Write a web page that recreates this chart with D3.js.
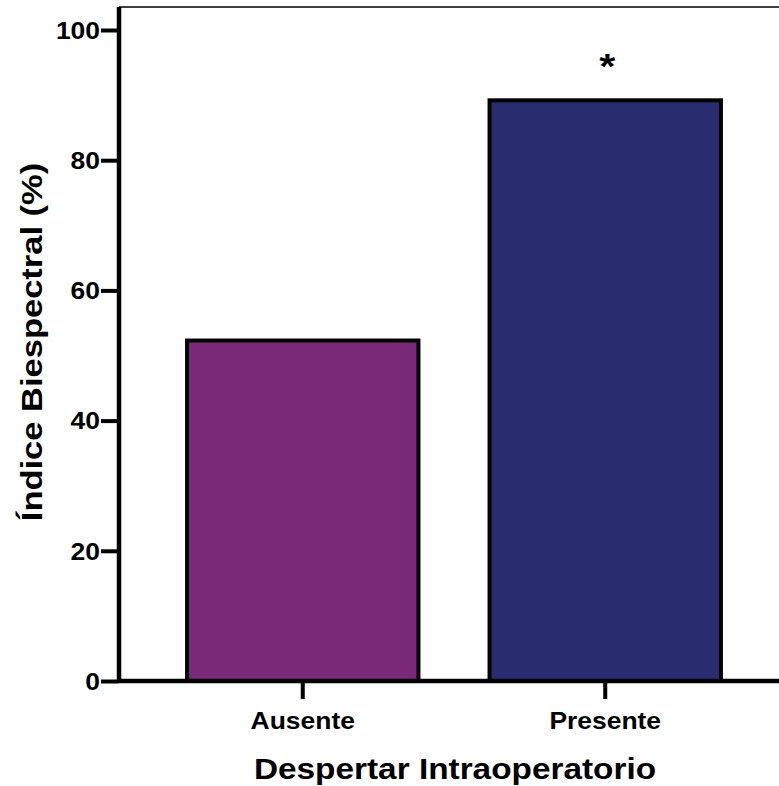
<!DOCTYPE html>
<html>
<head>
<meta charset="utf-8">
<script src="https://cdn.jsdelivr.net/npm/d3@7"></script>
<style>
	body { margin: 0; background: #fff; }
	text { font-family: "Liberation Sans", Arial, sans-serif; font-weight: bold; fill: #000; }
</style>
</head>
<body>
<div id="chart"></div>
<script>
// values
var categories = ["Ausente", "Presente"];
var values = [52.3, 89.2];
var colors = ["#7b2979", "#2a2c71"];
var marks = ["", "*"];
var yTicks = [0, 20, 40, 60, 80, 100];

var W = 779, H = 786;
var margin = {top: 8, right: 0, bottom: 105, left: 119};
// the original lettering is a bit wider than Arial
var stretch = 1.15;

var svg = d3.select("#chart").append("svg")
		.attr("width", W)
		.attr("height", H);

var yscale = d3.scaleLinear()
		.domain([0, 100])
		.range([681, 30]);

var xscale = d3.scaleBand()
		.domain(categories)
		.range([margin.left, 789])
		.paddingInner(0.235)
		.paddingOuter(0.225);

// thin frame line along the top
svg.append("line")
		.attr("x1", margin.left).attr("x2", W)
		.attr("y1", 7).attr("y2", 7)
		.attr("stroke", "#000")
		.attr("stroke-width", 1.5);

// bars
svg.append("g").selectAll("rect")
		.data(values)
	.enter().append("rect")
		.attr("x", (d, i) => xscale(categories[i]))
		.attr("y", d => yscale(d))
		.attr("width", xscale.bandwidth())
		.attr("height", d => yscale(0) - yscale(d))
		.attr("fill", (d, i) => colors[i])
		.attr("stroke", "#000")
		.attr("stroke-width", 4);

// significance marks
svg.append("g").selectAll("text")
		.data(values)
	.enter().append("text")
		.attr("transform", (d, i) => `translate(${xscale(categories[i]) + xscale.bandwidth() / 2 + 2}, ${yscale(d) - 22}) scale(${stretch}, 1)`)
		.attr("text-anchor", "middle")
		.style("font-size", "36px")
		.text((d, i) => marks[i]);

// y axis
var yaxis = d3.axisLeft(yscale)
		.tickValues(yTicks)
		.tickSize(18)
		.tickSizeOuter(0);

var gy = svg.append("g")
		.attr("transform", `translate(${margin.left}, 0)`)
		.call(yaxis);
gy.select(".domain").remove();
gy.append("line")
		.attr("x1", 0).attr("x2", 0)
		.attr("y1", 7).attr("y2", yscale(0) + 2)
		.attr("stroke", "#000")
		.attr("stroke-width", 4.5);
gy.selectAll(".tick line").attr("stroke-width", 4);
gy.selectAll(".tick text")
		.style("font-size", "23px")
		.attr("x", -19 / stretch)
		.attr("dy", "0.36em")
		.attr("transform", `scale(${stretch}, 1)`);

// x axis
var xaxis = d3.axisBottom(xscale)
		.tickSize(18)
		.tickPadding(14)
		.tickSizeOuter(0);

var gx = svg.append("g")
		.attr("transform", `translate(0, ${yscale(0)})`)
		.call(xaxis);
gx.select(".domain").remove();
gx.append("line")
		.attr("x1", margin.left).attr("x2", W)
		.attr("stroke", "#000")
		.attr("stroke-width", 4.5);
gx.selectAll(".tick line").attr("stroke-width", 4);
gx.selectAll(".tick text")
		.style("font-size", "23px")
		.attr("transform", `scale(${stretch}, 1)`);

// axis titles
svg.append("text")
		.attr("transform", `translate(455, 779) scale(${stretch}, 1)`)
		.attr("text-anchor", "middle")
		.style("font-size", "29px")
		.text("Despertar Intraoperatorio");

svg.append("text")
		.attr("transform", `translate(42, 342) rotate(-90) scale(${stretch}, 1)`)
		.attr("text-anchor", "middle")
		.style("font-size", "30px")
		.text("Índice Biespectral (%)");
</script>
</body>
</html>
